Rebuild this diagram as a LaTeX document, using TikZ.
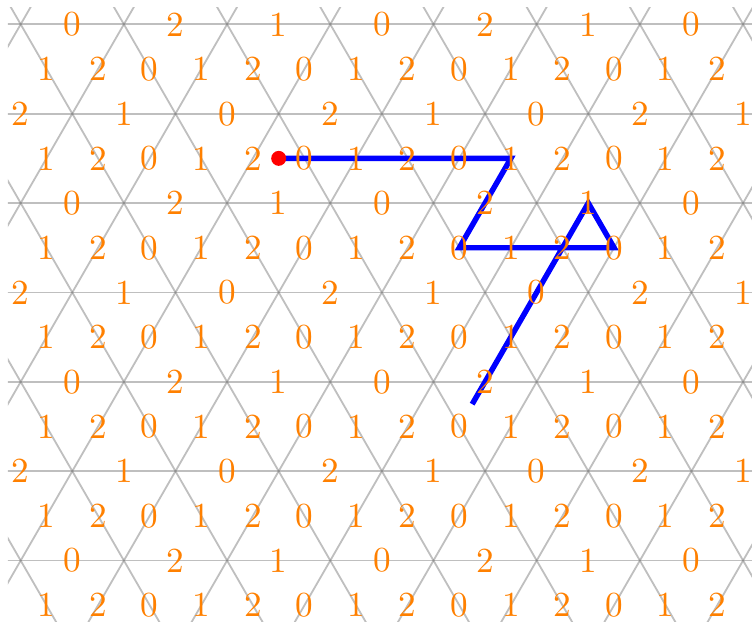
\documentclass[tikz,border=0pt]{standalone}
\begin{document}
\begin{tikzpicture}[x=1cm,y=1cm,
  gridline/.style={draw=gray, opacity=0.5, line width=1pt},
  lab/.style={text=orange, font=\fontsize{10}{12}\selectfont, scale=1.94, inner sep=0pt},
  walk/.style={draw=blue, line width=3pt},
  reddot/.style={fill=red}]
\useasboundingbox (-0.401,0.471) rectangle (14.173,-11.583);
% triangular grid
\begin{scope}
  \clip (-0.246,0.335) rectangle (14.4,-11.8);
  \foreach \k in {0,...,6}
    \draw[gridline] (-1,{-\k*sqrt(3)}) -- (15,{-\k*sqrt(3)});
  \foreach \m in {-4,...,11} {
    \draw[gridline] ({2*\m-7},{-7*sqrt(3)}) -- ({2*\m+1},{sqrt(3)});
    \draw[gridline] ({2*\m+7},{-7*sqrt(3)}) -- ({2*\m-1},{sqrt(3)});
  }
\end{scope}
% walk
\coordinate (p0) at (5,{-1.5*sqrt(3)});
\coordinate (p1) at (9.5,{-1.5*sqrt(3)});
\coordinate (p2) at (8.5,{-2.5*sqrt(3)});
\coordinate (p3) at (11.5,{-2.5*sqrt(3)});
\coordinate (p4) at (11,{-2*sqrt(3)});
\coordinate (p5) at (8.75,{-4.25*sqrt(3)});
\draw[walk] (p0) -- (p1) -- (p2) -- (p3) -- (p4) -- (p5);
\fill[reddot] (p0) circle (0.145);
% labels
\foreach \k in {0,2,4,6}
  \foreach \j in {0,...,6} {
    \pgfmathtruncatemacro\v{mod(30-\j,3)}
    \node[lab] (h\k-\j) at ({2*\j+1},{-\k*sqrt(3)}) {\v};
  }
\foreach \k in {1,3,5}
  \foreach \j in {0,...,7} {
    \pgfmathtruncatemacro\v{mod(32-\j,3)}
    \node[lab] (h\k-\j) at ({2*\j},{-\k*sqrt(3)}) {\v};
  }
\foreach \k in {0,...,6}
  \foreach \m in {0,...,13} {
    \pgfmathtruncatemacro\v{mod(1+\m,3)}
    \node[lab] (d\k-\m) at ({\m+0.5},{-(\k+0.5)*sqrt(3)}) {\v};
  }
\end{tikzpicture}
\end{document}
